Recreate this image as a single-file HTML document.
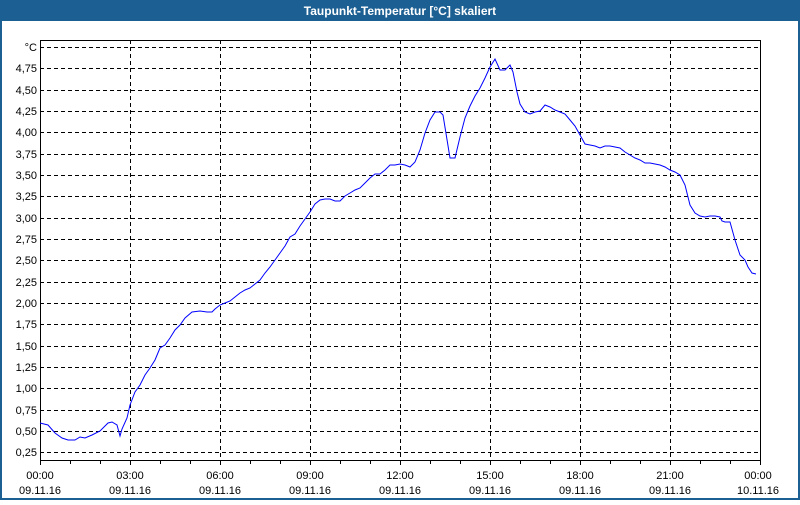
<!DOCTYPE html>
<html><head><meta charset="utf-8"><style>
html,body{margin:0;padding:0;background:#fff}
</style></head><body>
<svg width="800" height="500" xmlns="http://www.w3.org/2000/svg" font-family="Liberation Sans, DejaVu Sans, sans-serif">
<rect x="0" y="0" width="800" height="500" fill="#1c5f93"/>
<rect x="2" y="21" width="796" height="477" fill="#fff"/>
<text x="400" y="15" fill="#fff" font-size="12" font-weight="bold" text-anchor="middle">Taupunkt-Temperatur [°C] skaliert</text>
<g stroke="#000" stroke-width="1" stroke-dasharray="4,3" shape-rendering="crispEdges">
<line x1="40" x2="760" y1="47.5" y2="47.5"/>
<line x1="40" x2="760" y1="68.5" y2="68.5"/>
<line x1="40" x2="760" y1="90.5" y2="90.5"/>
<line x1="40" x2="760" y1="111.5" y2="111.5"/>
<line x1="40" x2="760" y1="132.5" y2="132.5"/>
<line x1="40" x2="760" y1="154.5" y2="154.5"/>
<line x1="40" x2="760" y1="175.5" y2="175.5"/>
<line x1="40" x2="760" y1="196.5" y2="196.5"/>
<line x1="40" x2="760" y1="218.5" y2="218.5"/>
<line x1="40" x2="760" y1="239.5" y2="239.5"/>
<line x1="40" x2="760" y1="260.5" y2="260.5"/>
<line x1="40" x2="760" y1="282.5" y2="282.5"/>
<line x1="40" x2="760" y1="303.5" y2="303.5"/>
<line x1="40" x2="760" y1="324.5" y2="324.5"/>
<line x1="40" x2="760" y1="346.5" y2="346.5"/>
<line x1="40" x2="760" y1="367.5" y2="367.5"/>
<line x1="40" x2="760" y1="388.5" y2="388.5"/>
<line x1="40" x2="760" y1="410.5" y2="410.5"/>
<line x1="40" x2="760" y1="431.5" y2="431.5"/>
<line x1="40" x2="760" y1="452.5" y2="452.5"/>
<line x1="130.5" x2="130.5" y1="40" y2="460"/>
<line x1="220.5" x2="220.5" y1="40" y2="460"/>
<line x1="310.5" x2="310.5" y1="40" y2="460"/>
<line x1="400.5" x2="400.5" y1="40" y2="460"/>
<line x1="490.5" x2="490.5" y1="40" y2="460"/>
<line x1="580.5" x2="580.5" y1="40" y2="460"/>
<line x1="670.5" x2="670.5" y1="40" y2="460"/>
</g>
<rect x="40.5" y="40.5" width="720" height="420" fill="none" stroke="#000" shape-rendering="crispEdges"/>
<g stroke="#000" shape-rendering="crispEdges">
<path d="M40.5 461v4M70.5 461v3M100.5 461v3M130.5 461v4M160.5 461v3M190.5 461v3M220.5 461v4M250.5 461v3M280.5 461v3M310.5 461v4M340.5 461v3M370.5 461v3M400.5 461v4M430.5 461v3M460.5 461v3M490.5 461v4M520.5 461v3M550.5 461v3M580.5 461v4M610.5 461v3M640.5 461v3M670.5 461v4M700.5 461v3M730.5 461v3M760.5 461v4"/>
</g>
<g font-size="11" fill="#000" text-anchor="end">
<text x="37" y="51">°C</text>
<text x="37" y="72">4,75</text><text x="37" y="94">4,50</text><text x="37" y="115">4,25</text>
<text x="37" y="136">4,00</text><text x="37" y="158">3,75</text><text x="37" y="179">3,50</text>
<text x="37" y="200">3,25</text><text x="37" y="222">3,00</text><text x="37" y="243">2,75</text>
<text x="37" y="264">2,50</text><text x="37" y="286">2,25</text><text x="37" y="307">2,00</text>
<text x="37" y="328">1,75</text><text x="37" y="350">1,50</text><text x="37" y="371">1,25</text>
<text x="37" y="392">1,00</text><text x="37" y="414">0,75</text><text x="37" y="435">0,50</text>
<text x="37" y="456">0,25</text>
</g>
<g font-size="11" fill="#000" text-anchor="middle">
<text x="40" y="479">00:00</text><text x="40" y="494">09.11.16</text>
<text x="130" y="479">03:00</text><text x="130" y="494">09.11.16</text>
<text x="220" y="479">06:00</text><text x="220" y="494">09.11.16</text>
<text x="310" y="479">09:00</text><text x="310" y="494">09.11.16</text>
<text x="400" y="479">12:00</text><text x="400" y="494">09.11.16</text>
<text x="490" y="479">15:00</text><text x="490" y="494">09.11.16</text>
<text x="580" y="479">18:00</text><text x="580" y="494">09.11.16</text>
<text x="670" y="479">21:00</text><text x="670" y="494">09.11.16</text>
<text x="758" y="479">00:00</text><text x="758" y="494">10.11.16</text>
</g>
<polyline fill="none" stroke="#0000ff" stroke-width="1" points="40,423 48,425 55,433 62,438 68,440 75,440 80,437 85,438 92,435 100,431 108,423 112,422 117,425 120,436 122,429 127,418 130,405 135,392 140,385 145,375 150,368 155,360 160,348 165,345 170,338 175,330 180,325 185,318 192,312 200,311 207,312 212,312 215,309 220,305 225,303 230,301 235,297 240,293 245,290 250,288 255,284 260,280 265,273 270,267 275,260 280,253 285,246 290,237 295,234 300,226 305,219 310,212 315,204 320,200 325,199 330,199 335,201 340,201 345,196 350,193 355,190 360,188 365,183 370,178 375,174 380,174 385,170 390,165 395,165 400,164 405,165 410,167 415,162 420,150 425,133 430,120 435,112 440,112 443,115 450,158 455,158 460,137 465,118 470,106 475,96 480,88 485,78 490,67 495,59 500,70 505,70 508,67 510,65 513,72 517,92 520,104 525,112 530,114 535,112 540,111 545,105 550,107 555,110 560,112 565,114 570,120 575,126 580,135 585,144 590,145 595,146 600,148 605,146 610,146 615,147 620,148 625,152 630,155 635,158 640,160 645,163 650,163 655,164 660,165 665,167 670,170 675,172 680,175 685,185 690,205 695,213 700,216 705,217 710,216 715,216 720,217 722,221 725,222 730,222 735,240 740,255 745,260 748,267 752,273 756,274"/>
</svg>
</body></html>
